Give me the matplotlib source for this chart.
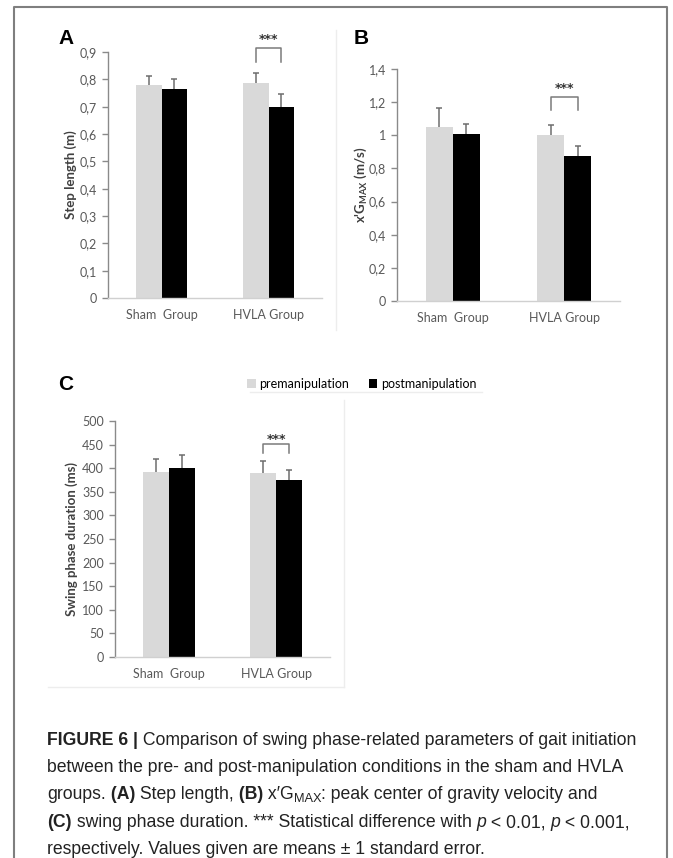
import matplotlib
matplotlib.use("Agg")
import matplotlib.pyplot as plt
import numpy as np
from matplotlib.patches import Patch
from matplotlib.lines import Line2D
from matplotlib.ticker import FuncFormatter, MultipleLocator

# data
groups = ["Sham  Group", "HVLA Group"]
series = ["premanipulation", "postmanipulation"]

step_pre = [0.78, 0.788]
step_post = [0.765, 0.70]
step_pre_se = [0.031, 0.036]
step_post_se = [0.035, 0.048]

vel_pre = [1.048, 1.002]
vel_post = [1.006, 0.877]
vel_pre_se = [0.115, 0.06]
vel_post_se = [0.062, 0.06]

swing_pre = [392, 389]
swing_post = [401, 376]
swing_pre_se = [28, 26]
swing_post_se = [28, 20]

W, H = 673, 858
fig = plt.figure(figsize=(W / 100, H / 100), dpi=100)
plt.rcParams["mathtext.fontset"] = "custom"
plt.rcParams["mathtext.bf"] = "Lato:bold"
plt.rcParams["mathtext.rm"] = "Lato"

AX_FONT = "Lato"
CAP_FONT = "Liberation Sans"
PRE_C = "#d9d9d9"
POST_C = "#000000"
TXT_C = "#595959"
ERR_C = "#6d6d6d"


def fx(px):
    return px / W


def fy(py):
    return 1 - py / H


def make_axes(left, right, top, bottom):
    return fig.add_axes([fx(left), fy(bottom), fx(right - left), (bottom - top) / H])


def comma(v, pos):
    return f"{v:g}".replace(".", ",")


def plus_errors(ax, x, vals, se, cap=0.028):
    # Excel style: only the upper half of the error bar
    vals = np.asarray(vals, float)
    tops = vals + np.asarray(se, float)
    ax.vlines(x, vals, tops, color=ERR_C, lw=1.1, zorder=3)
    ax.hlines(tops, x - cap, x + cap, color=ERR_C, lw=1.1, zorder=3)


def draw_panel(ax, pre, post, pre_se, post_se, ymax, step, ylabel, lab_x, sig_y, bar_w=0.24):
    x = np.arange(len(groups))
    ax.bar(x - bar_w / 2, pre, bar_w, color=PRE_C, zorder=2)
    ax.bar(x + bar_w / 2, post, bar_w, color=POST_C, zorder=2)
    plus_errors(ax, x - bar_w / 2, pre, pre_se)
    plus_errors(ax, x + bar_w / 2, post, post_se)
    ax.set_xlim(-0.5, 1.5)
    ax.set_ylim(0, ymax)
    ax.yaxis.set_major_locator(MultipleLocator(step))
    ax.yaxis.set_major_formatter(FuncFormatter(comma))
    ax.set_xticks(x)
    ax.set_xticklabels(groups)
    for s in ["top", "right"]:
        ax.spines[s].set_visible(False)
    ax.spines["left"].set_color("#8a8a8a")
    ax.spines["left"].set_linewidth(1.0)
    ax.spines["bottom"].set_color("#d0d0d0")
    ax.spines["bottom"].set_linewidth(1.0)
    ax.tick_params(axis="y", direction="out", length=4, width=1, color="#8a8a8a",
                   labelsize=9, labelcolor=TXT_C, pad=4)
    ax.tick_params(axis="x", length=0, labelsize=9, labelcolor=TXT_C, pad=8)
    for t in ax.get_xticklabels() + ax.get_yticklabels():
        t.set_family(AX_FONT)
    ax.set_ylabel(ylabel, family=AX_FONT, fontweight="bold", fontsize=9.5, color="#404040")
    ax.yaxis.set_label_coords(lab_x, 0.5)
    # significance bracket on the HVLA group
    y0, y1 = sig_y
    xl, xr = 1 - bar_w / 2, 1 + bar_w / 2
    ax.plot([xl, xl, xr, xr], [y0, y1, y1, y0], color="#7a7a7a", lw=1.1, clip_on=False)
    ax.text(1, y1 + (y1 - y0) * 0.6, "***", ha="center", va="center", fontsize=9,
            fontweight="bold", color="#333333", family="DejaVu Sans")


axA = make_axes(108, 322, 52, 298)
draw_panel(axA, step_pre, step_post, step_pre_se, step_post_se, 0.9, 0.1,
           "Step length (m)", -0.145, (0.863, 0.915))

axB = make_axes(397, 620, 69, 301)
draw_panel(axB, vel_pre, vel_post, vel_pre_se, vel_post_se, 1.4, 0.2,
           r"x'G$_{\mathbf{MAX}}$ (m/s)", -0.126, (1.153, 1.233))

axC = make_axes(115, 330, 421, 657)
draw_panel(axC, swing_pre, swing_post, swing_pre_se, swing_post_se, 500, 50,
           "Swing phase duration (ms)", -0.172, (433, 451))

# panel letters
for letter, (px, py) in zip("ABC", [(66, 38), (361, 38), (66, 385)]):
    fig.text(fx(px), fy(py), letter, fontsize=15, fontweight="bold", family="Liberation Sans",
             ha="center", va="center")

# legend of panel C
handles = [Patch(facecolor=PRE_C, edgecolor="none"), Patch(facecolor=POST_C, edgecolor="none")]
fig.legend(handles, series, loc="center", bbox_to_anchor=(fx(362), fy(384)), ncol=2,
           frameon=False, handlelength=0.65, handleheight=0.65, handletextpad=0.3,
           columnspacing=1.6, prop={"family": AX_FONT, "size": 9})

# faint chart-area borders
faint = "#ededed"
fig.add_artist(Line2D([fx(336), fx(336)], [fy(30), fy(330)], color=faint, lw=1))
fig.add_artist(Line2D([fx(48), fx(344)], [fy(687), fy(687)], color=faint, lw=1))
fig.add_artist(Line2D([fx(344), fx(344)], [fy(400), fy(687)], color=faint, lw=1))
fig.add_artist(Line2D([fx(250), fx(482)], [fy(392), fy(392)], color=faint, lw=1))

# outer frame (open at the bottom)
fig.add_artist(Line2D([fx(14), fx(14), fx(667), fx(667)], [0, fy(7), fy(7), 0],
                      color="#7f7f7f", lw=1.5))

# caption: (text, style, baseline shift in px, small)
cap_size = 12.7
cap_lines = [
    [("FIGURE 6 |", "bold", 0, False),
     (" Comparison of swing phase-related parameters of gait initiation", "normal", 0, False)],
    [("between the pre- and post-manipulation conditions in the sham and HVLA", "normal", 0, False)],
    [("groups.", "normal", 0, False), (" (A)", "bold", 0, False), (" Step length,", "normal", 0, False),
     (" (B)", "bold", 0, False), (" x\u2032G", "normal", 0, False), ("MAX", "normal", 3, True),
     (": peak center of gravity velocity and", "normal", 0, False)],
    [("(C)", "bold", 0, False), (" swing phase duration. *** Statistical difference with ", "normal", 0, False),
     ("p", "italic", 0, False), (" < 0.01, ", "normal", 0, False), ("p", "italic", 0, False),
     (" < 0.001,", "normal", 0, False)],
    [("respectively. Values given are means \u00b1 1 standard error.", "normal", 0, False)],
]
base_y = [745, 772, 799, 827, 854]

cap_texts = []
for line, by in zip(cap_lines, base_y):
    for txt, style, dy, small in line:
        t = fig.text(0, 0, txt, fontsize=cap_size * 0.72 if small else cap_size,
                     fontweight="bold" if style == "bold" else "normal",
                     style="italic" if style == "italic" else "normal",
                     family=CAP_FONT, color="#222222", va="baseline", ha="left")
        cap_texts.append((t, by + dy))

# place the pieces one after another using their rendered widths
fig.canvas.draw()
renderer = fig.canvas.get_renderer()
idx = 0
for line in cap_lines:
    xpos = 47
    for _ in line:
        t, ypos = cap_texts[idx]
        idx += 1
        t.set_position((fx(xpos), fy(ypos)))
        xpos += t.get_window_extent(renderer).width

fig.savefig("out.png", dpi=100)
